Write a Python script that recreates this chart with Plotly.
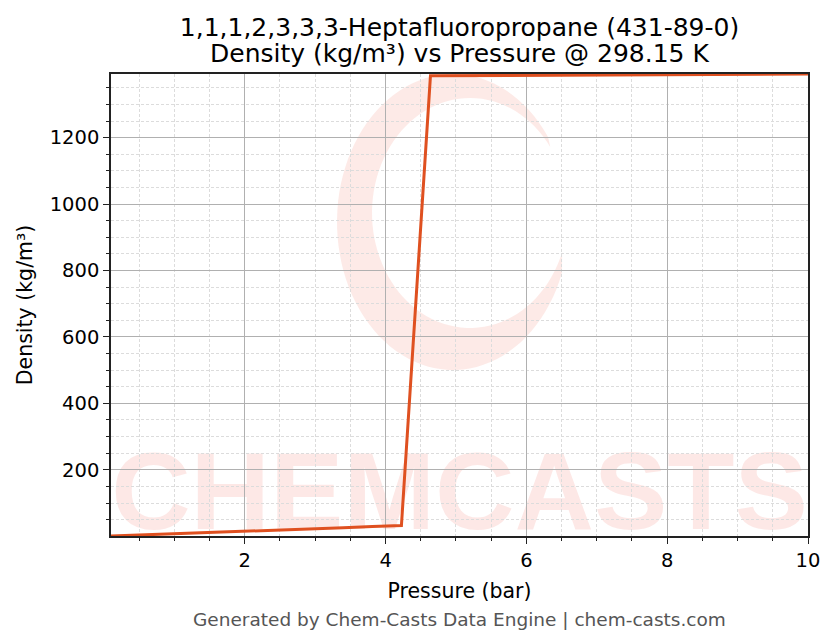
import numpy as np
import plotly.graph_objects as go

# pressure samples (bar) and density (kg/m3) at 298.15 K
pressure = [0.1, 0.5125, 0.925, 1.3375, 1.75, 2.1625, 2.575, 2.9875, 3.4, 3.8125,
            4.225, 4.6375, 5.05, 5.4625, 5.875, 6.2875, 6.7, 7.1125, 7.525, 7.9375,
            8.35, 8.7625, 9.175, 9.5875, 10.0]
density = [0.69, 3.56, 6.50, 9.50, 12.55, 15.67, 18.86, 22.13, 25.48, 28.93,
           32.2, 1386.1, 1386.6, 1387.1, 1387.5, 1388.0, 1388.4, 1388.8, 1389.2,
           1389.6, 1390.0, 1390.4, 1390.8, 1391.2, 1391.6]

title_lines = ["1,1,1,2,3,3,3-Heptafluoropropane (431-89-0)",
               "Density (kg/m³) vs Pressure @ 298.15 K"]
footer = "Generated by Chem-Casts Data Engine | chem-casts.com"

# page body has an 8px margin, so the figure is a bit smaller than the window
OFF = 8
W, H = 836 - 2 * OFF, 644 - 2 * OFF
L, R, T, B = 111 - OFF, 836 - 808 - OFF, 74 - OFF, 644 - 536 - OFF
pw, ph = W - L - R, H - T - B


def to_paper(x, y):
    # window pixel -> paper fraction
    return (x - OFF - L) / pw, (H - B - (y - OFF)) / ph


# watermark swirl, built in window pixels
ang = np.radians(np.linspace(35, 340, 90))
outer = [(453 + 116 * np.cos(a), 222 - 148 * np.sin(a)) for a in ang]
inner = [(470 + 98 * np.cos(a), 213 - 115 * np.sin(a)) for a in ang[::-1]]
pts = [to_paper(x, y) for x, y in outer + inner]
swirl = "M " + " L ".join(f"{x:.4f},{y:.4f}" for x, y in pts) + " Z"

fig = go.Figure()
fig.add_trace(go.Scatter(x=pressure, y=density, mode="lines",
                         line=dict(color="#DF5020", width=3), showlegend=False))

fig.add_shape(type="path", path=swirl, xref="paper", yref="paper", layer="below",
              fillcolor="rgba(240,80,60,0.12)", line=dict(width=0))
wm_y = to_paper(0, 480)[1]
fig.add_shape(type="rect", xref="paper", yref="paper", x0=0, x1=1,
              y0=wm_y - 0.1, y1=wm_y + 0.1,
              layer="below", line=dict(width=0), fillcolor="rgba(0,0,0,0)",
              label=dict(text="<b>CHEMCASTS</b>", textposition="middle center",
                         font=dict(size=110, color="rgba(240,80,60,0.13)",
                                   family="Liberation Sans")))

fig.add_annotation(text=title_lines[1], xref="paper", yref="paper", x=0.5,
                   y=to_paper(0, 54)[1], showarrow=False, yanchor="middle",
                   font=dict(size=25, color="black"))
fig.add_annotation(text=footer, xref="paper", yref="paper", x=0.5, y=to_paper(0, 619)[1],
                   showarrow=False, yanchor="middle",
                   font=dict(size=18.5, color="#555555"))

axis_common = dict(showline=True, linecolor="#222222", linewidth=1.5, mirror=True,
                   ticks="outside", ticklen=6, tickwidth=1.3, tickcolor="#222222",
                   showgrid=True, gridcolor="#b0b0b0", gridwidth=0.8, zeroline=False,
                   tickfont=dict(size=19.5, color="black"),
                   minor=dict(ticks="outside", ticklen=3.5, tickwidth=1, tickcolor="#222222",
                              showgrid=True, gridcolor="#dcdcdc", gridwidth=0.6,
                              griddash="3px,2px"))

fig.update_xaxes(range=[0.1, 10.0], tickvals=[2, 4, 6, 8, 10],
                 title=dict(text="Pressure (bar)", font=dict(size=20.5, color="black"),
                            standoff=12),
                 **axis_common)
fig.update_xaxes(minor_dtick=0.5, minor_tick0=0)
fig.update_yaxes(range=[min(density), max(density)], tick0=0, dtick=200,
                 title=dict(text="Density (kg/m³)", font=dict(size=20.5, color="black"),
                            standoff=12),
                 **axis_common)
fig.update_yaxes(minor_dtick=50, minor_tick0=0)

fig.update_layout(
    width=W, height=H,
    margin=dict(l=L, r=R, t=T, b=B, autoexpand=False),
    paper_bgcolor="white", plot_bgcolor="white",
    font=dict(family="DejaVu Sans", color="black"),
    title=dict(text=title_lines[0], x=0.5, xref="paper", xanchor="center",
               y=1 - (27 - OFF) / H, yref="container", yanchor="middle",
               font=dict(size=25, color="black")),
)

fig.write_html("out.html")
